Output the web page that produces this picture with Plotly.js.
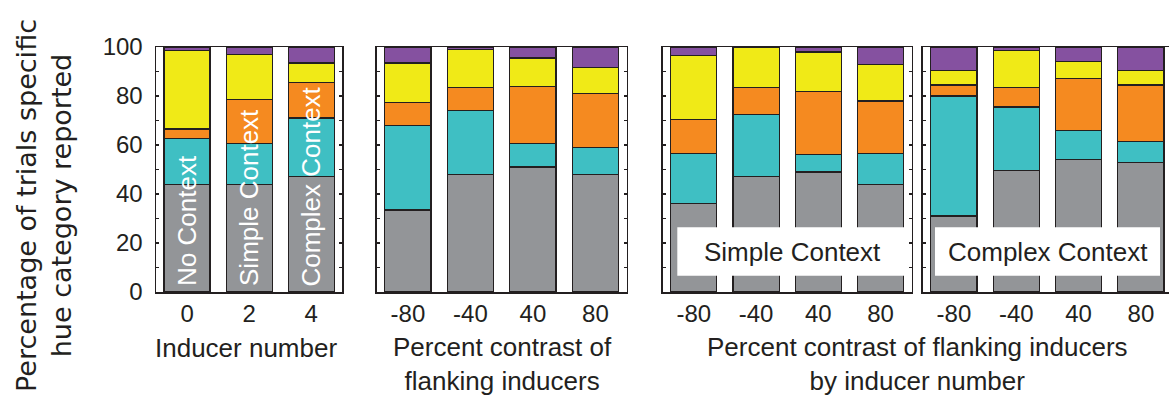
<!DOCTYPE html>
<html>
<head>
<meta charset="utf-8">
<script src="https://cdn.plot.ly/plotly-3.0.1.min.js"></script>
<style>
  html, body { margin: 0; padding: 0; background: #ffffff; }
  #chart { width: 1169px; height: 405px; }
</style>
</head>
<body>
<div id="chart"></div>
<script>
// ---------------- data ----------------
const hueNames  = ['Gray', 'Turquoise', 'Orange', 'Yellow', 'Purple'];
const hueColors = ['#939598', '#3fbfc3', '#f58a20', '#f0ea17', '#8551a0'];

// Panel 1: inducer number
const inducerNumbers = [0, 2, 4];
const contextLabels  = ['No Context', 'Simple Context', 'Complex Context'];
const p1Gray   = [44, 44, 47];
const p1Cyan   = [18.5, 16.5, 24];
const p1Orange = [4, 18, 14.5];
const p1Yellow = [32, 18.5, 8];
const p1Purple = [1.5, 3, 6.5];

// Panel 2: percent contrast of flanking inducers
const contrastLabels = ['-80', '-40', '40', '80'];
const p2Gray   = [33.5, 48, 51, 48];
const p2Cyan   = [34.5, 26, 9.5, 11];
const p2Orange = [9.5, 9.5, 23.5, 22];
const p2Yellow = [16, 15.5, 11.5, 10.5];
const p2Purple = [6.5, 1, 4.5, 8.5];

// Panel 3: Simple Context
const p3Gray   = [36, 47, 49, 44];
const p3Cyan   = [20.5, 25.5, 7, 12.5];
const p3Orange = [14, 11, 26, 21.5];
const p3Yellow = [26, 16.5, 16, 15];
const p3Purple = [3.5, 0, 2, 7];

// Panel 4: Complex Context
const p4Gray   = [31, 49.5, 54, 53];
const p4Cyan   = [49, 26, 12, 8.5];
const p4Orange = [4.5, 8, 21, 23];
const p4Yellow = [6, 15, 7, 6];
const p4Purple = [9.5, 1.5, 6, 9.5];

const yTickVals = [0, 10, 20, 30, 40, 50, 60, 70, 80, 90, 100];
const yTickText = ['0', '', '20', '', '40', '', '60', '', '80', '', '100'];

// ---------------- build ----------------
const FONT = 'Liberation Sans, Arial, Helvetica, sans-serif';
const WIDE = 'DejaVu Sans, Liberation Sans, Arial, sans-serif';
const INK = '#231f20';

function panelTraces(xs, series, xa, ya, width) {
  return series.map((vals, i) => ({
    type: 'bar',
    name: hueNames[i],
    x: xs,
    y: vals,
    xaxis: xa,
    yaxis: ya,
    width: width,
    marker: { color: hueColors[i], line: { color: INK, width: 1.2 } },
    showlegend: false,
    hoverinfo: 'x+y+name'
  }));
}

const data = [].concat(
  panelTraces(inducerNumbers, [p1Gray, p1Cyan, p1Orange, p1Yellow, p1Purple], 'x', 'y', 1.48),
  panelTraces(contrastLabels, [p2Gray, p2Cyan, p2Orange, p2Yellow, p2Purple], 'x2', 'y2', 0.74),
  panelTraces(contrastLabels, [p3Gray, p3Cyan, p3Orange, p3Yellow, p3Purple], 'x3', 'y3', 0.74),
  panelTraces(contrastLabels, [p4Gray, p4Cyan, p4Orange, p4Yellow, p4Purple], 'x4', 'y4', 0.74)
);

const W = 1169;
function xAxis(dom, extra) {
  return Object.assign({
    domain: [dom[0] / W, dom[1] / W],
    showline: true, linecolor: INK, linewidth: 1.5, mirror: true,
    ticks: '', showgrid: false, zeroline: false, fixedrange: true,
    tickfont: { family: FONT, size: 24, color: INK },
    ticklabelstandoff: 0
  }, extra);
}
function yAxis(anchor, labels, mirror) {
  return {
    anchor: anchor, domain: [0, 1], range: [0, 100],
    tickmode: 'array', tickvals: yTickVals, ticktext: yTickText,
    showticklabels: labels,
    ticks: 'inside', ticklen: 3, tickwidth: 1.2, tickcolor: INK,
    showline: true, linecolor: INK, linewidth: 1.5, mirror: mirror,
    showgrid: false, zeroline: false, fixedrange: true,
    tickfont: { family: FONT, size: 24, color: INK },
    ticklabelstandoff: 7
  };
}

const titleFont = { family: FONT, size: 26, color: INK };
const annotations = [
  { xref: 'paper', yref: 'paper', x: 44 / W, y: (292 - 206) / 245, textangle: -90,
    xanchor: 'center', yanchor: 'middle', showarrow: false,
    text: 'Percentage of trials specific<br>hue category reported',
    font: { family: WIDE, size: 27, color: INK } },
  { xref: 'paper', yref: 'paper', x: 246 / W, y: (292 - 348) / 245,
    xanchor: 'center', yanchor: 'middle', showarrow: false,
    text: 'Inducer number', font: titleFont },
  { xref: 'paper', yref: 'paper', x: 502 / W, y: (292 - 364) / 245,
    xanchor: 'center', yanchor: 'middle', showarrow: false,
    text: 'Percent contrast of<br>flanking inducers', font: titleFont },
  { xref: 'paper', yref: 'paper', x: 917 / W, y: (292 - 364) / 245,
    xanchor: 'center', yanchor: 'middle', showarrow: false,
    text: 'Percent contrast of flanking inducers<br>by inducer number', font: titleFont },
  { xref: 'paper', yref: 'paper', x: 792.5 / W, y: (292 - 251.5) / 245,
    xanchor: 'center', yanchor: 'middle', showarrow: false,
    text: 'Simple Context', font: titleFont },
  { xref: 'paper', yref: 'paper', x: 1047.5 / W, y: (292 - 251.5) / 245,
    xanchor: 'center', yanchor: 'middle', showarrow: false,
    text: 'Complex Context', font: titleFont }
];
inducerNumbers.forEach((n, i) => {
  annotations.push({
    xref: 'x', yref: 'y', x: n, y: 1.5, textangle: -90,
    xanchor: 'center', yanchor: 'bottom', showarrow: false,
    text: contextLabels[i], font: { family: FONT, size: 26, color: '#ffffff' }
  });
});

const shapes = [
  { type: 'rect', xref: 'paper', yref: 'paper', layer: 'above',
    x0: 677.3 / W, x1: 907.7 / W, y0: (292 - 275.7) / 245, y1: (292 - 227.3) / 245,
    fillcolor: '#ffffff', line: { width: 0 } },
  { type: 'rect', xref: 'paper', yref: 'paper', layer: 'above',
    x0: 935 / W, x1: 1160 / W, y0: (292 - 275.7) / 245, y1: (292 - 227.3) / 245,
    fillcolor: '#ffffff', line: { width: 0 } }
];

const layout = {
  width: 1169, height: 405,
  margin: { l: 0, r: 0, t: 47, b: 113, pad: 0 },
  paper_bgcolor: '#ffffff', plot_bgcolor: '#ffffff',
  font: { family: FONT, color: INK },
  barmode: 'stack', bargap: 0,
  showlegend: false,
  xaxis:  xAxis([156, 342.3], { anchor: 'y', range: [-1, 5], tickmode: 'array', tickvals: inducerNumbers, ticktext: inducerNumbers.map(String) }),
  xaxis2: xAxis([376.7, 626.7], { anchor: 'y2', type: 'category', range: [-0.5, 3.5] }),
  xaxis3: xAxis([662.7, 911.7], { anchor: 'y3', type: 'category', range: [-0.5, 3.5] }),
  xaxis4: xAxis([922.7, 1169], { anchor: 'y4', type: 'category', range: [-0.5, 3.45] }),
  yaxis:  yAxis('x', true, 'ticks'),
  yaxis2: yAxis('x2', false, 'ticks'),
  yaxis3: yAxis('x3', false, 'ticks'),
  yaxis4: yAxis('x4', false, false),
  annotations: annotations,
  shapes: shapes
};

Plotly.newPlot('chart', data, layout, { displayModeBar: false, staticPlot: true });
</script>
</body>
</html>
